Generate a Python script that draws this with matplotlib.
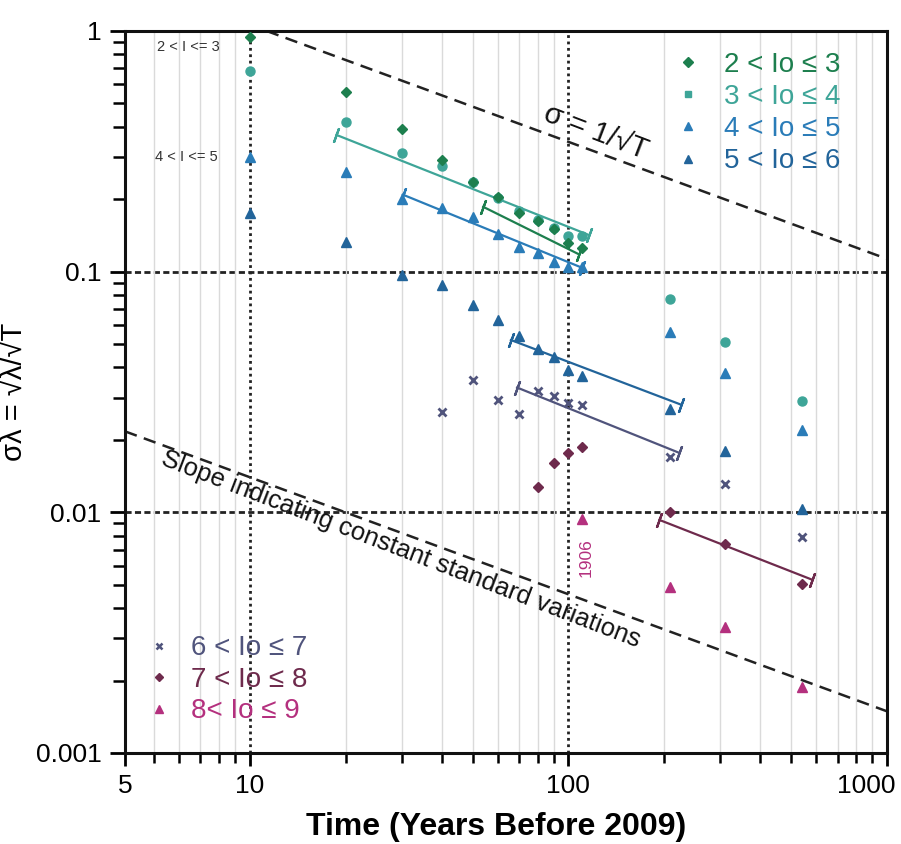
import matplotlib
matplotlib.use('Agg')
import matplotlib.pyplot as plt
import matplotlib.transforms as mtransforms
from matplotlib.lines import Line2D
from matplotlib.ticker import FixedLocator, NullFormatter

plt.rcParams['font.family'] = ['Liberation Sans', 'DejaVu Sans']

# ---- data (T = years before 2009, s = sigma_lambda) ----
io23_t = [10, 20, 30, 40, 50, 60, 70, 80, 90, 100, 110]
io23_s = [0.94, 0.56, 0.39, 0.29, 0.235, 0.205, 0.175, 0.163, 0.15, 0.132, 0.125]

io34_t = [10, 20, 30, 40, 50, 60, 70, 80, 90, 100, 110, 209, 309, 540]
io34_s = [0.68, 0.42, 0.31, 0.275, 0.236, 0.203, 0.178, 0.164, 0.152, 0.14, 0.14, 0.077, 0.051, 0.029]

io45_t = [10, 20, 30, 40, 50, 60, 70, 80, 90, 100, 110, 209, 309, 540]
io45_s = [0.30, 0.26, 0.20, 0.184, 0.168, 0.143, 0.127, 0.12, 0.11, 0.105, 0.105, 0.056, 0.038, 0.022]

io56_t = [10, 20, 30, 40, 50, 60, 70, 80, 90, 100, 110, 209, 309, 540]
io56_s = [0.175, 0.133, 0.097, 0.088, 0.073, 0.063, 0.054, 0.0475, 0.044, 0.039, 0.037, 0.027, 0.018, 0.0103]

io67_t = [40, 50, 60, 70, 80, 90, 100, 110, 209, 309, 540]
io67_s = [0.026, 0.0356, 0.0294, 0.0255, 0.0318, 0.0303, 0.0286, 0.028, 0.0169, 0.0131, 0.0079]

io78_t = [80, 90, 100, 110, 209, 309, 540]
io78_s = [0.0127, 0.0161, 0.0177, 0.0186, 0.0100, 0.00737, 0.00503]

io89_t = [110, 209, 309, 540]
io89_s = [0.00935, 0.00489, 0.00333, 0.00188]

# fitted segments (end points)
fit23_t = [54, 108];   fit23_s = [0.186, 0.118]
fit34_t = [18.7, 116]; fit34_s = [0.37, 0.142]
fit45_t = [30.2, 110]; fit45_s = [0.209, 0.104]
fit56_t = [66, 226];   fit56_s = [0.052, 0.028]
fit67_t = [69, 222];   fit67_s = [0.033, 0.0177]
fit78_t = [193, 582];  fit78_s = [0.0093, 0.00525]

# reference slopes
ref_top_t = [11.3, 1000];   ref_top_s = [1.0, 0.113]
ref_low_t = [4.057, 1000];  ref_low_s = [0.0217, 0.00149]

labels_top = ['2 < Io \u2264 3', '3 < Io \u2264 4', '4 < Io \u2264 5', '5 < Io \u2264 6']
labels_low = ['6 < Io \u2264 7', '7 < Io \u2264 8', '8< Io \u2264 9']

c23 = '#1d7f4e'
c34 = '#3ea598'
c45 = '#2a7cb8'
c56 = '#22649a'
c67 = '#50547c'
c78 = '#6e2a4c'
c89 = '#b4307e'

x_left = 4.057

fig = plt.figure(figsize=(9.01, 8.44), dpi=100)
ax = fig.add_axes([125/901, 1-753/844, 762/901, 722/844])
ax.set_xscale('log')
ax.set_yscale('log')
ax.set_xlim(x_left, 1000)
ax.set_ylim(0.001, 1)

# light minor grid
xminor = [5, 6, 7, 8, 9] + [k*10 for k in range(2, 10)] + [k*100 for k in range(2, 10)]
ax.xaxis.set_major_locator(FixedLocator([x_left, 10, 100, 1000]))
ax.set_xticklabels(['5', '10', '100', '1000'])
ax.xaxis.set_minor_locator(FixedLocator(xminor))
ax.xaxis.set_minor_formatter(NullFormatter())
ax.grid(which='minor', axis='x', color='#dadada', lw=1.0, zorder=0)

yminor = [m*10.0**e for e in (-3, -2, -1) for m in range(2, 10)]
ax.yaxis.set_major_locator(FixedLocator([0.001, 0.01, 0.1, 1]))
ax.set_yticklabels(['0.001', '0.01', '0.1', '1'])
ax.yaxis.set_minor_locator(FixedLocator(yminor))
ax.yaxis.set_minor_formatter(NullFormatter())

for xv in (10, 100):
    ax.axvline(xv, color='#222222', lw=2.0, ls=(0, (1, 1.3)), zorder=1)
for yv in (0.1, 0.01):
    ax.axhline(yv, color='#222222', lw=2.0, ls=(0, (2.2, 1.2)), zorder=1)

ax.plot(ref_top_t, ref_top_s, color='#222222', lw=1.8, ls=(0, (5, 3)), zorder=2)
ax.plot(ref_low_t, ref_low_s, color='#222222', lw=1.8, ls=(0, (5, 3)), zorder=2)

cap = (2, 2, -20)
for ft, fs, fc in [(fit34_t, fit34_s, c34), (fit23_t, fit23_s, c23), (fit45_t, fit45_s, c45),
                   (fit56_t, fit56_s, c56), (fit67_t, fit67_s, c67), (fit78_t, fit78_s, c78)]:
    ax.plot(ft, fs, color=fc, lw=1.6, marker=cap, ms=11, mew=1.6, zorder=3)

ax.plot(io34_t, io34_s, ls='', marker='o', ms=6.5, color=c34, zorder=4)
ax.plot(io23_t, io23_s, ls='', marker='D', ms=5, color=c23, zorder=5)
ax.plot(io45_t, io45_s, ls='', marker='^', ms=7.5, color=c45, zorder=4)
ax.plot(io56_t, io56_s, ls='', marker='^', ms=7.5, color=c56, zorder=4)
ax.plot(io67_t, io67_s, ls='', marker='x', ms=6, mew=2, color=c67, zorder=4)
ax.plot(io78_t, io78_s, ls='', marker='D', ms=5, color=c78, zorder=4)
ax.plot(io89_t, io89_s, ls='', marker='^', ms=7.5, color=c89, zorder=4)

# legends
h_top = [Line2D([], [], ls='', marker='D', ms=5, color=c23),
         Line2D([], [], ls='', marker='s', ms=5, color=c34),
         Line2D([], [], ls='', marker='^', ms=6, color=c45),
         Line2D([], [], ls='', marker='^', ms=6, color=c56)]
leg1 = ax.legend(h_top, labels_top, loc='upper left', bbox_to_anchor=(0.722, 0.971),
                 frameon=False, fontsize=20, labelcolor=[c23, c34, c45, c56],
                 handlelength=0.9, handletextpad=0.85, labelspacing=0.22,
                 borderpad=0, borderaxespad=0)
ax.add_artist(leg1)
h_low = [Line2D([], [], ls='', marker='x', ms=5, mew=1.8, color=c67),
         Line2D([], [], ls='', marker='D', ms=4.5, color=c78),
         Line2D([], [], ls='', marker='^', ms=6, color=c89)]
ax.legend(h_low, labels_low, loc='upper left', bbox_to_anchor=(0.028, 0.163),
          frameon=False, fontsize=20, labelcolor=[c67, c78, c89],
          handlelength=0.9, handletextpad=0.7, labelspacing=0.2,
          borderpad=0, borderaxespad=0)

# annotations
ax.text(122, 0.38, '\u03c3 = 1/\u221aT', fontsize=21, rotation=-21, ha='center', va='center',
        rotation_mode='anchor', color='#111111', zorder=6)
ax.text(29.7, 0.0070, 'Slope indicating constant standard variations', fontsize=18.5,
        rotation=-21, ha='center', va='center', rotation_mode='anchor', color='#111111', zorder=6)
ax.text(6.4, 0.86, '2 < I <= 3', fontsize=10.5, ha='center', va='center', color='#333333')
ax.text(6.3, 0.30, '4 < I <= 5', fontsize=10.5, ha='center', va='center', color='#333333')
ax.text(114, 0.0065, '1906', fontsize=12.5, rotation=90, ha='center', va='center', color=c89)

for sp in ax.spines.values():
    sp.set_linewidth(2.2)
    sp.set_color('#111111')

ax.tick_params(axis='x', which='major', direction='out', length=9, width=2, labelsize=19, pad=6)
ax.tick_params(axis='x', which='minor', direction='out', length=7, width=1.8)
ax.tick_params(axis='y', which='major', direction='out', length=11, width=2, labelsize=19, pad=6)
ax.tick_params(axis='y', which='minor', direction='out', length=9, width=1.8)

# last x label sits flush against the right border
last = ax.get_xticklabels()[-1]
last.set_horizontalalignment('right')
last.set_transform(last.get_transform() +
                   mtransforms.ScaledTranslation(0.09, 0, fig.dpi_scale_trans))

ax.set_xlabel('Time (Years Before 2009)', fontsize=23, fontweight='bold')
ax.xaxis.set_label_coords(0.487, -0.082)
ax.set_ylabel('\u03c3\u03bb = \u221a\u03bb/\u221aT', fontsize=21)
ax.yaxis.set_label_coords(-0.128, 0.5)

fig.savefig('out.png', dpi=100)
